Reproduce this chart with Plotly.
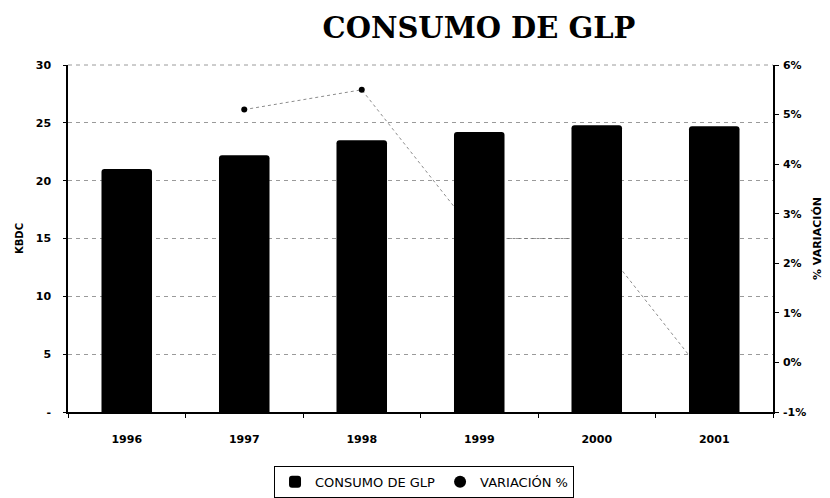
import plotly.graph_objects as go

years = ["1996", "1997", "1998", "1999", "2000", "2001"]
consumo_kbdc = [21.0, 22.2, 23.5, 24.2, 24.8, 24.7]
variacion_pct = [None, 5.1, 5.5, 2.5, 2.5, -0.5]

left_ticks = [0, 5, 10, 15, 20, 25, 30]
left_ticktext = ["-", "5", "10", "15", "20", "25", "30"]
right_ticks = [-1, 0, 1, 2, 3, 4, 5, 6]
right_ticktext = ["-1%", "0%", "1%", "2%", "3%", "4%", "5%", "6%"]

boldfont = dict(family="DejaVu Sans", size=11, color="black", weight="bold")

fig = go.Figure()

# line on primary axis (drawn underneath), bars on overlaying axis (on top)
fig.add_trace(go.Scatter(
    x=years, y=variacion_pct, name="VARIACIÓN %", yaxis="y",
    mode="lines+markers",
    line=dict(color="#6f6f6f", width=0.8, dash="dot"),
    marker=dict(color="black", size=6, symbol="circle"),
    showlegend=False, cliponaxis=False,
))
fig.add_trace(go.Scatter(
    x=[None], y=[None], name="VARIACIÓN %", yaxis="y",
    mode="markers", marker=dict(color="black", size=4, symbol="circle"),
    legendrank=2,
))
fig.add_trace(go.Bar(
    x=years, y=consumo_kbdc, name="CONSUMO DE GLP", yaxis="y2",
    marker=dict(color="black", line=dict(width=0), cornerradius=3),
    width=0.43, legendrank=1,
))

fig.update_layout(
    width=822, height=490,
    margin=dict(l=60, r=57, t=57, b=86, autoexpand=False),
    paper_bgcolor="white", plot_bgcolor="white",
    title=dict(text="<b>CONSUMO DE GLP</b>", x=0.573, xref="container", xanchor="center",
               y=0.959, yref="container", yanchor="middle",
               font=dict(family="DejaVu Serif", size=29, color="black")),
    xaxis=dict(type="category", range=[-0.5, 5.5], showline=True, linecolor="black", linewidth=1.5,
               ticks="outside", tickson="boundaries", ticklen=4, tickcolor="black",
               tickfont=boldfont, ticklabelstandoff=16, automargin=False,
               showgrid=False),
    yaxis=dict(side="right", range=[-1, 6], tickvals=right_ticks, ticktext=right_ticktext,
               showline=True, linecolor="black", linewidth=1.5, ticks="outside", ticklen=4,
               tickcolor="black", showgrid=False, zeroline=False, automargin=False,
               tickfont=boldfont, ticklabelstandoff=2,
               title=dict(text="<b>% VARIACIÓN</b>", font=dict(family="DejaVu Sans", size=11, color="black"), standoff=8)),
    yaxis2=dict(side="left", overlaying="y", range=[0, 30], tickvals=left_ticks, ticktext=left_ticktext,
                showline=True, linecolor="black", linewidth=1.5, ticks="outside", ticklen=3,
                tickcolor="black", showgrid=True, gridcolor="#9a9a9a", griddash="4px,4px", gridwidth=1,
                zeroline=False, automargin=False,
                tickfont=boldfont, ticklabelstandoff=10,
                title=dict(text="<b>KBDC</b>", font=dict(family="DejaVu Sans", size=10, color="black"), standoff=10)),
    legend=dict(orientation="h", x=0.505, xanchor="center", y=-0.155, yanchor="top",
                bordercolor="black", borderwidth=1, bgcolor="white",
                font=dict(family="DejaVu Sans", size=13, color="black"),
                itemsizing="constant", tracegroupgap=0, itemwidth=30),
    showlegend=True,
    bargap=0.57,
    shapes=[dict(type="line", xref="paper", yref="paper", x0=0, x1=1, y0=1, y1=1,
                 line=dict(color="#9a9a9a", width=1, dash="4px,4px"), layer="below")],
)

fig.write_html("out.html")
